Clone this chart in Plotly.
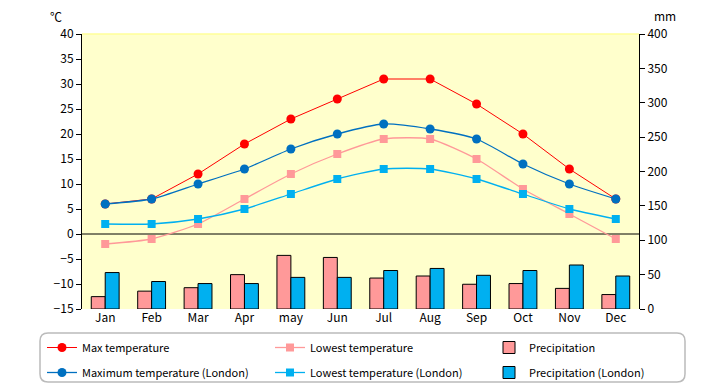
import plotly.graph_objects as go

months = ["Jan", "Feb", "Mar", "Apr", "may", "Jun", "Jul", "Aug", "Sep", "Oct", "Nov", "Dec"]
max_temp = [6, 7, 12, 18, 23, 27, 31, 31, 26, 20, 13, 7]
low_temp = [-2, -1, 2, 7, 12, 16, 19, 19, 15, 9, 4, -1]
precip = [18, 26, 31, 50, 78, 75, 45, 48, 36, 37, 30, 21]
max_temp_london = [6, 7, 10, 13, 17, 20, 22, 21, 19, 14, 10, 7]
low_temp_london = [2, 2, 3, 5, 8, 11, 13, 13, 11, 8, 5, 3]
precip_london = [53, 40, 37, 37, 46, 46, 56, 59, 49, 56, 64, 48]

FONT = "Noto Sans CJK JP"

fig = go.Figure()

fig.add_trace(go.Scatter(x=months, y=max_temp, name="Max temperature", yaxis="y2",
                         mode="lines+markers", line=dict(color="#FF0000", width=1),
                         marker=dict(symbol="circle", size=9, color="#FF0000"),
                         legend="legend", legendgroup="a"))
fig.add_trace(go.Scatter(x=months, y=low_temp, name="Lowest temperature", yaxis="y2",
                         mode="lines+markers", line=dict(color="#FF9999", width=1.3, shape="spline", smoothing=0.6),
                         marker=dict(symbol="square", size=8, color="#FF9999"),
                         legend="legend2", legendgroup="b"))
fig.add_trace(go.Bar(x=months, y=precip, name="Precipitation", yaxis="y",
                     marker=dict(color="#FF9999", line=dict(color="black", width=1)),
                     legend="legend3", legendgroup="c"))
fig.add_trace(go.Scatter(x=months, y=max_temp_london, name="Maximum temperature (London)", yaxis="y2",
                         mode="lines+markers", line=dict(color="#0070C0", width=1.3, shape="spline", smoothing=0.6),
                         marker=dict(symbol="circle", size=9, color="#0070C0"),
                         legend="legend", legendgroup="d"))
fig.add_trace(go.Scatter(x=months, y=low_temp_london, name="Lowest temperature (London)", yaxis="y2",
                         mode="lines+markers", line=dict(color="#00B0F0", width=1.3, shape="spline", smoothing=0.6),
                         marker=dict(symbol="square", size=8, color="#00B0F0"),
                         legend="legend2", legendgroup="e"))
fig.add_trace(go.Bar(x=months, y=precip_london, name="Precipitation (London)", yaxis="y",
                     marker=dict(color="#00B0F0", line=dict(color="black", width=1)),
                     legend="legend3", legendgroup="f"))

# page has an 8px body margin; figure is sized/offset to compensate
OFF = 8
W, H = 720 - OFF, 385 - OFF
L, T = 82 - OFF, 34 - OFF
R = W - (639 - OFF)
B = H - (309 - OFF)
pw, ph = W - L - R, H - T - B

def px(xp):
    return (xp - OFF - L) / pw

def py(yp):
    return (H - B - (yp - OFF)) / ph

# rounded legend box
x0, x1, y0, y1 = px(40), px(685), py(333), py(382)
rx, ry = 8 / pw, 8 / ph
path = (f"M {x0+rx},{y0} L {x1-rx},{y0} Q {x1},{y0} {x1},{y0-ry} "
        f"L {x1},{y1+ry} Q {x1},{y1} {x1-rx},{y1} L {x0+rx},{y1} "
        f"Q {x0},{y1} {x0},{y1+ry} L {x0},{y0-ry} Q {x0},{y0} {x0+rx},{y0} Z")

legend_common = dict(orientation="v", bgcolor="rgba(0,0,0,0)", borderwidth=0,
                     font=dict(family=FONT, size=11, color="black"),
                     xanchor="left", yanchor="top", tracegroupgap=6,
                     itemwidth=30)

fig.update_layout(
    template="none",
    width=W, height=H,
    margin=dict(l=L, r=R, t=T, b=B, pad=0, autoexpand=False),
    paper_bgcolor="white",
    plot_bgcolor="#FFFFCC",
    font=dict(family=FONT, size=12, color="black"),
    barmode="group", bargap=0.4, bargroupgap=0,
    xaxis=dict(type="category", range=[-0.5, 11.5], showline=False, ticks="",
               showgrid=False, zeroline=False, automargin=False, tickfont=dict(size=12)),
    yaxis=dict(range=[0, 400], dtick=50, side="right", showline=True, linecolor="black",
               linewidth=1, ticks="outside", ticklen=5, tickcolor="black",
               showgrid=False, zeroline=False, automargin=False),
    yaxis2=dict(range=[-15, 40], dtick=5, side="left", overlaying="y", showline=True,
                linecolor="black", linewidth=1, ticks="outside", ticklen=5, tickcolor="black",
                showgrid=False, zeroline=False, automargin=False),
    legend=dict(x=px(42), y=py(333), **legend_common),
    legend2=dict(x=px(270), y=py(333), **legend_common),
    legend3=dict(x=px(489), y=py(333), **legend_common),
    shapes=[
        dict(type="line", xref="paper", yref="y2", x0=0, x1=1, y0=0, y1=0,
             line=dict(color="black", width=1), layer="below"),
        dict(type="line", xref="paper", yref="paper", x0=0, x1=1, y0=1, y1=1,
             line=dict(color="#FFFF99", width=1.5), layer="below"),
        dict(type="path", xref="paper", yref="paper", path=path,
             line=dict(color="#BBBBBB", width=1.5), fillcolor="rgba(0,0,0,0)"),
    ],
    annotations=[
        dict(text="℃", xref="paper", yref="paper", x=px(56), y=py(16), showarrow=False,
             xanchor="center", yanchor="middle", font=dict(size=12)),
        dict(text="mm", xref="paper", yref="paper", x=px(665), y=py(15), showarrow=False,
             xanchor="center", yanchor="middle", font=dict(size=12)),
    ],
)

fig.write_html("out.html")
